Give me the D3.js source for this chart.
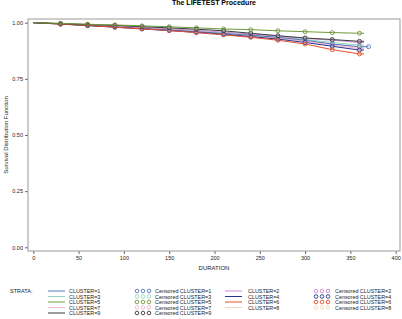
<!DOCTYPE html>
<html><head><meta charset="utf-8">
<script src="https://cdn.jsdelivr.net/npm/d3@7"></script>
<style>body{margin:0;background:#fff}svg{display:block;font-family:"Liberation Sans",Arial,sans-serif}</style>
</head><body><svg id="c" width="402" height="319"></svg>
<script>
const times = [0,30,60,90,120,150,180,210,240,270,300,330,360];
const clusters = ["CLUSTER=1","CLUSTER=2","CLUSTER=3","CLUSTER=4","CLUSTER=5","CLUSTER=6","CLUSTER=7","CLUSTER=8","CLUSTER=9"];
const endTimes = [370,365,365,365,365,365,365,365,365];
const survival = [
  [1,.995,.988,.982,.975,.968,.960,.952,.944,.935,.922,.905,.893],
  [1,.995,.990,.985,.979,.973,.966,.958,.950,.940,.930,.922,.912],
  [1,.995,.989,.983,.976,.969,.962,.954,.946,.936,.925,.912,.900],
  [1,.994,.987,.980,.972,.965,.957,.948,.938,.927,.912,.895,.878],
  [1,.997,.993,.990,.986,.982,.977,.972,.969,.964,.960,.956,.953],
  [1,.994,.988,.980,.973,.965,.956,.946,.935,.922,.905,.880,.861],
  [1,.994,.988,.981,.974,.966,.958,.949,.940,.930,.918,.900,.885],
  [1,.995,.989,.982,.975,.967,.959,.950,.941,.931,.920,.905,.890],
  [1,.996,.992,.988,.982,.977,.971,.964,.953,.942,.932,.925,.917]
];
const colors = ["#5b74c2","#c88fd0","#8ed6bc","#27358a","#6f9a38","#e8502a","#f2b3cf","#efd6b8","#3a3a3a"];
const xTicks = [0,50,100,150,200,250,300,350,400];
const yTicks = [0,0.25,0.5,0.75,1];

const svg = d3.select("#c");
const L=28, R=400, T=19, B=251;
const x = d3.scaleLinear().domain([0,400]).range([33.3,395.7]);
const y = d3.scaleLinear().domain([0,1]).range([247.3,22.7]);

svg.append("text").attr("x",214).attr("y",5).attr("text-anchor","middle")
  .attr("font-size",7).attr("font-weight","bold").attr("fill","#000").text("The LIFETEST Procedure");

// axes
const ya = svg.append("g").attr("transform",`translate(${L},0)`)
  .call(d3.axisLeft(y).tickValues(yTicks).tickFormat(d3.format(".2f")).tickSize(3).tickPadding(2));
const xa = svg.append("g").attr("transform",`translate(0,${B})`)
  .call(d3.axisBottom(x).tickValues(xTicks).tickSize(3).tickPadding(2));
[ya,xa].forEach(g=>{g.select(".domain").remove();g.selectAll("line").attr("stroke","#666");
  g.selectAll("text").attr("font-size",5.5).attr("fill","#222").style("font-family","Liberation Sans, Arial, sans-serif");});

svg.append("rect").attr("x",L).attr("y",T).attr("width",R-L).attr("height",B-T)
  .attr("fill","none").attr("stroke","#999").attr("stroke-width",1);

svg.append("text").attr("x",214).attr("y",270).attr("text-anchor","middle").attr("font-size",6).attr("fill","#222").text("DURATION");
svg.append("text").attr("transform","translate(8,135) rotate(-90)").attr("text-anchor","middle").attr("font-size",6).attr("fill","#222").text("Survival Distribution Function");

// curves
const line = d3.line().x(d=>x(d[0])).y(d=>y(d[1]));
const order = [7,6,2,0,1,3,5,8,4];
order.forEach(i=>{
  const pts = times.map((t,k)=>[t,survival[i][k]]);
  pts.push([endTimes[i], survival[i][survival[i].length-1]]);
  svg.append("path").attr("d",line(pts)).attr("fill","none").attr("stroke",colors[i]).attr("stroke-width",1);
});
order.forEach(i=>{
  svg.append("g").selectAll("circle").data(times.slice(1).map((t,k)=>[t,survival[i][k+1]]).concat(i===0?[[endTimes[i],survival[i][12]]]:[]))
    .join("circle").attr("cx",d=>x(d[0])).attr("cy",d=>y(d[1])).attr("r",2)
    .attr("fill","none").attr("stroke",colors[i]).attr("stroke-width",0.9);
});

// legend
svg.append("text").attr("x",10).attr("y",293).attr("font-size",5.5).attr("fill","#222").text("STRATA:");
const rowY = [291,296.5,302,307.5,313];
clusters.forEach((c,i)=>{
  const col = i%2, row = Math.floor(i/2);
  const yy = rowY[row];
  const lx = col===0?48:225, tx = col===0?69:248, cx = col===0?137:316, ctx = col===0?155:335;
  svg.append("line").attr("x1",lx).attr("x2",lx+17).attr("y1",yy).attr("y2",yy).attr("stroke",colors[i]).attr("stroke-width",1);
  svg.append("text").attr("x",tx).attr("y",yy+2).attr("font-size",5.4).attr("fill","#222").text(c);
  [0,6,12].forEach(o=>svg.append("circle").attr("cx",cx+o).attr("cy",yy).attr("r",1.8).attr("fill","none").attr("stroke",colors[i]).attr("stroke-width",0.9));
  svg.append("text").attr("x",ctx).attr("y",yy+2).attr("font-size",5.4).attr("fill","#222").text("Censored "+c);
});
</script></body></html>
